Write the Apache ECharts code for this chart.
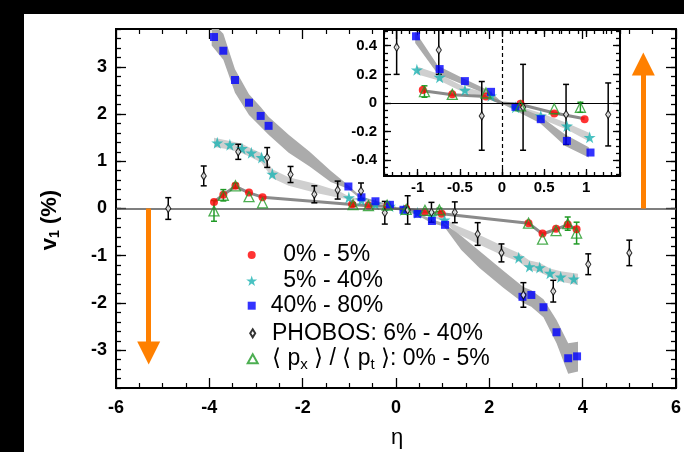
<!DOCTYPE html>
<html><head><meta charset="utf-8">
<script src="https://cdn.jsdelivr.net/npm/echarts@6/dist/echarts.min.js"></script>
<style>html,body{margin:0;padding:0;background:#fff;}#c{width:684px;height:452px;}</style>
</head><body><div id="c"></div>
<script>
// ---------------- data ----------------
const redX   = [-3.90,-3.70,-3.44,-3.15,-2.86,-0.94,-0.59,-0.19,0.22,0.62,0.98,2.84,3.14,3.43,3.68,3.87];
const redY   = [0.14,0.29,0.48,0.34,0.24,0.09,0.062,0.046,-0.006,-0.073,-0.113,-0.31,-0.53,-0.43,-0.34,-0.44];

const cyanX  = [-3.83,-3.56,-3.30,-3.10,-2.88,-2.65,-1.01,-0.74,-0.44,-0.13,0.16,0.46,0.77,1.04,2.63,2.86,3.08,3.30,3.53,3.81];
const cyanY  = [1.39,1.35,1.27,1.18,1.08,0.73,0.232,0.18,0.09,0.05,-0.03,-0.09,-0.16,-0.24,-1.04,-1.23,-1.25,-1.37,-1.45,-1.49];

const blueX  = [-3.90,-3.70,-3.45,-3.15,-2.90,-2.73,-1.02,-0.74,-0.44,-0.13,0.16,0.46,0.77,1.05,2.71,2.90,3.16,3.44,3.69,3.88];
const blueY  = [3.63,3.34,2.72,2.24,1.96,1.75,0.466,0.237,0.153,0.078,-0.027,-0.113,-0.265,-0.346,-1.87,-1.83,-2.09,-2.62,-3.17,-3.13];

const phobosX   = [-4.88,-4.12,-3.38,-2.76,-2.26,-1.75,-1.25,-0.75,-0.24,0.25,0.76,1.26,1.75,2.26,2.73,3.37,4.12,5.00];
const phobosY   = [0.00,0.69,1.20,1.08,0.72,0.30,0.39,0.37,-0.09,-0.03,-0.08,-0.08,-0.54,-0.94,-1.83,-1.75,-1.18,-0.94];
const phobosErr = [0.23,0.21,0.16,0.21,0.17,0.18,0.19,0.17,0.24,0.30,0.21,0.22,0.24,0.19,0.26,0.23,0.22,0.27];

const pxptX   = [-3.90,-3.70,-3.44,-3.15,-2.86,-0.92,-0.59,-0.19,0.22,0.62,0.93,2.84,3.14,3.43,3.68,3.87];
const pxptY   = [-0.05,0.28,0.48,0.25,0.12,0.08,0.06,0.07,-0.02,-0.04,-0.03,-0.31,-0.65,-0.47,-0.32,-0.52];
const pxptErr = [0.22,0.12,0.05,0,0,0.04,0,0,0,0,0.035,0,0,0,0.14,0.23];

// model bands (grey)
const bandBlueX  = [-3.95,-3.7,-3.45,-3.15,-2.9,-2.73,-2.3,-1.85,-1.4,-1.03,-0.76,-0.45,-0.15,0,0.15,0.45,0.75,1.03,1.4,1.79,2.3,2.73,2.9,3.16,3.44,3.69,3.9];
const bandBlueLo = [3.45,3.15,2.45,1.98,1.73,1.56,1.18,0.89,0.56,0.42,0.2,0.125,0.055,-0.005,-0.05,-0.14,-0.3,-0.38,-0.88,-1.26,-1.68,-2.0,-2.08,-2.3,-2.85,-3.5,-3.45];
const bandBlueHi = [3.95,3.7,2.95,2.42,2.15,1.94,1.56,1.2,0.8,0.5,0.26,0.17,0.085,0.005,-0.015,-0.09,-0.22,-0.31,-0.58,-0.9,-1.32,-1.66,-1.73,-1.92,-2.36,-2.85,-2.82];

const bandCyanX  = [-3.9,-3.56,-3.3,-3.1,-2.88,-2.65,-2.3,-1.71,-1.2,-1.01,-0.74,-0.44,-0.13,0,0.16,0.46,0.77,1.04,1.29,1.79,2.3,2.63,2.86,3.08,3.3,3.53,3.9];
const bandCyanLo = [1.3,1.25,1.17,1.08,0.97,0.64,0.48,0.33,0.22,0.2,0.155,0.07,0.03,-0.005,-0.045,-0.11,-0.185,-0.27,-0.52,-0.77,-1.0,-1.12,-1.3,-1.35,-1.45,-1.55,-1.62];
const bandCyanHi = [1.5,1.43,1.37,1.27,1.17,0.83,0.66,0.52,0.36,0.255,0.2,0.11,0.065,0.005,-0.015,-0.07,-0.14,-0.21,-0.36,-0.56,-0.8,-0.94,-1.1,-1.15,-1.27,-1.33,-1.38];

const lineRedX = [-3.9,-3.7,-3.44,-3.15,-2.86,-0.94,-0.59,-0.19,0,0.22,0.62,0.98,2.84,3.14,3.43,3.68,3.87];
const lineRedY = [0.14,0.29,0.47,0.33,0.24,0.085,0.058,0.045,0,-0.01,-0.07,-0.11,-0.31,-0.54,-0.44,-0.34,-0.44];

// the inset only shows the model curves over this |eta| span
const insetModelSpan = 1.06;

// annotation arrows (data coords): x position, end (symbol centre)
const arrowX   = [-5.3, 5.3];
const arrowEnd = [-3.06, 3.06];

// axis ticks
const mainYMajor = [-3,-2,-1,0,1,2,3];
const insetXMajor = [-1,-0.5,0,0.5,1];
const insetYMajor = [-0.4,-0.2,0,0.2,0.4];

const names = ['0% - 5%', '5% - 40%', '40% - 80%', 'PHOBOS: 6% - 40%', 'pxpt'];
// ---------------------------------------------------------

function steps(a, b, s){ const r=[]; const n=Math.round((b-a)/s); for(let i=0;i<=n;i++) r.push(+(a+i*s).toFixed(4)); return r; }
function keep(xs, arrs, span){
  const idx = xs.map((x,i)=>i).filter(i=>Math.abs(xs[i])<=span);
  return [idx.map(i=>xs[i])].concat(arrs.map(a=>idx.map(i=>a[i])));
}
const FONT = '"Liberation Sans", Arial, Helvetica, sans-serif';
const BLACK = '#000';
const RED='#ff0000', CYAN='#1bb3b3', BLUE='#0000ff', GREEN='#1f9a25';
const starPath = 'path://M50,0 L61,35 L98,35 L68,57 L79,91 L50,70 L21,91 L32,57 L2,35 L39,35 Z';

function axisDef(grid, pos, min, max, ticks, len, labels, fs, margin){
  return {
    type:'value', gridIndex:grid, position:pos, min, max,
    axisLine:{show:true, onZero:false, lineStyle:{color:BLACK, width:2}},
    axisTick:{show:true, inside:true, length:len, customValues:ticks, lineStyle:{color:BLACK, width:1.3}},
    axisLabel:{show:labels, customValues:ticks, fontFamily:FONT, fontWeight:'bold', fontSize:fs, color:BLACK, margin},
    splitLine:{show:false}
  };
}

const xAxes = [
  {type:'value', gridIndex:0, position:'bottom', min:-6, max:6, interval:2,
   axisLine:{onZero:false, lineStyle:{color:BLACK, width:2}},
   axisTick:{inside:true, length:10, lineStyle:{color:BLACK, width:1.3}},
   minorTick:{show:true, splitNumber:4, length:5, lineStyle:{color:BLACK, width:1.2}},
   axisLabel:{fontFamily:FONT, fontWeight:'bold', fontSize:18, color:BLACK, margin:11},
   splitLine:{show:false}, minorSplitLine:{show:false}},
  {type:'value', gridIndex:0, position:'top', min:-6, max:6, interval:2,
   axisLine:{onZero:false, lineStyle:{color:BLACK, width:2}},
   axisTick:{inside:true, length:10, lineStyle:{color:BLACK, width:1.3}},
   minorTick:{show:true, splitNumber:4, length:5, lineStyle:{color:BLACK, width:1.2}},
   axisLabel:{show:false}, splitLine:{show:false}, minorSplitLine:{show:false}},
  axisDef(1,'bottom',-1.4,1.4,insetXMajor,7,true,15,4),
  axisDef(1,'bottom',-1.4,1.4,steps(-1.4,1.4,0.1),4,false,15,4),
  axisDef(1,'top',-1.4,1.4,insetXMajor,7,false,15,4),
  axisDef(1,'top',-1.4,1.4,steps(-1.4,1.4,0.1),4,false,15,4)
];
const yAxes = [
  axisDef(0,'left',-3.8,3.8,mainYMajor,10,true,18,9),
  axisDef(0,'left',-3.8,3.8,steps(-3.8,3.8,0.2),5,false,18,9),
  axisDef(0,'right',-3.8,3.8,mainYMajor,10,false,18,9),
  axisDef(0,'right',-3.8,3.8,steps(-3.8,3.8,0.2),5,false,18,9),
  axisDef(1,'left',-0.51,0.51,insetYMajor,7,true,15,7),
  axisDef(1,'left',-0.51,0.51,steps(-0.5,0.5,0.05),4,false,15,7),
  axisDef(1,'right',-0.51,0.51,insetYMajor,7,false,15,7),
  axisDef(1,'right',-0.51,0.51,steps(-0.5,0.5,0.05),4,false,15,7)
];

function band(xi, yi, xs, lo, hi, color){
  return {type:'custom', xAxisIndex:xi, yAxisIndex:yi, clip:true, silent:true, z:1,
    data: xs.map((x,i)=>[x, lo[i], hi[i]]), encode:{x:0, y:[1,2]},
    renderItem:(params, api)=>{
      if (params.dataIndex!==0) return;
      const pts=[];
      for (let i=0;i<xs.length;i++) pts.push(api.coord([xs[i], hi[i]]));
      for (let i=xs.length-1;i>=0;i--) pts.push(api.coord([xs[i], lo[i]]));
      return {type:'polygon', shape:{points:pts}, style:{fill:color}};
    }};
}
function errBars(xi, yi, xs, ys, es, color, cap){
  return {type:'custom', xAxisIndex:xi, yAxisIndex:yi, clip:true, silent:true, z:3,
    data: xs.map((x,i)=>[x, ys[i], es[i]]), encode:{x:0, y:1},
    renderItem:(params, api)=>{
      const x=api.value(0), y=api.value(1), e=api.value(2);
      if (!e) return;
      const t=api.coord([x,y+e]), b=api.coord([x,y-e]);
      const st={stroke:color, lineWidth:1.5};
      return {type:'group', children:[
        {type:'line', shape:{x1:t[0],y1:t[1],x2:b[0],y2:b[1]}, style:st},
        {type:'line', shape:{x1:t[0]-cap,y1:t[1],x2:t[0]+cap,y2:t[1]}, style:st},
        {type:'line', shape:{x1:b[0]-cap,y1:b[1],x2:b[0]+cap,y2:b[1]}, style:st}]};
    }};
}
function sc(xi, yi, name, xs, ys, symbol, size, itemStyle, z){
  return {type:'scatter', name, xAxisIndex:xi, yAxisIndex:yi, clip:true, z,
    data: xs.map((x,i)=>[x, ys[i]]), symbol, symbolSize:size, itemStyle, silent:true};
}

const series = [];
[[0,0,false],[2,4,true]].forEach(([xi, yi, inset])=>{
  const span = inset ? insetModelSpan : 99;
  const cb = keep(bandCyanX, [bandCyanLo, bandCyanHi], span);
  const bb = keep(bandBlueX, [bandBlueLo, bandBlueHi], span);
  const rl = keep(lineRedX, [lineRedY], span);
  series.push(band(xi, yi, cb[0], cb[1], cb[2], '#cfcfcf'));
  series.push(band(xi, yi, bb[0], bb[1], bb[2], '#ababab'));
  const redLine = {type:'line', xAxisIndex:xi, yAxisIndex:yi, clip:true, silent:true, z:2,
    data: rl[0].map((x,i)=>[x, rl[1][i]]), showSymbol:false, symbol:'none',
    lineStyle:{color:'#8a8a8a', width:3}};
  if (!inset) {
    redLine.markLine = {silent:true, symbol:['none','none'], label:{show:false}, animation:false,
      data:[
        {yAxis:0, lineStyle:{color:'#555', width:1.5, type:'solid'}},
        [{coord:[arrowX[0],0], symbol:'none', lineStyle:{color:'#ff8000', width:5, type:'solid'}},
         {coord:[arrowX[0],arrowEnd[0]], symbol:'triangle', symbolSize:23}],
        [{coord:[arrowX[1],0], symbol:'none', lineStyle:{color:'#ff8000', width:5, type:'solid'}},
         {coord:[arrowX[1],arrowEnd[1]], symbol:'triangle', symbolSize:23}]
      ]};
  } else {
    redLine.markLine = {silent:true, symbol:['none','none'], label:{show:false}, animation:false,
      data:[
        {yAxis:0, lineStyle:{color:'#000', width:1.2, type:'solid'}},
        {xAxis:0, lineStyle:{color:'#000', width:1.2, type:[4,3]}}
      ]};
  }
  series.push(redLine);
  series.push(errBars(xi, yi, phobosX, phobosY, phobosErr, '#000', 3));
  series.push(errBars(xi, yi, pxptX, pxptY, pxptErr, GREEN, 3));
  series.push(sc(xi, yi, names[0], redX, redY, 'circle', 8, {color:RED}, 4));
  series.push(sc(xi, yi, names[1], cyanX, cyanY, starPath, 12, {color:CYAN}, 4));
  series.push(sc(xi, yi, names[2], blueX, blueY, 'rect', 8, {color:BLUE}, 4));
  series.push(sc(xi, yi, names[3], phobosX, phobosY, 'diamond', [5,8], {color:'#fff', borderColor:'#000', borderWidth:1.2}, 5));
  series.push(sc(xi, yi, names[4], pxptX, pxptY, 'triangle', 10, {color:'rgba(0,0,0,0)', borderColor:GREEN, borderWidth:1.3}, 5));
});

// one legend per entry so each icon keeps its own size
const legendRows = [
  {name:names[0], cy:255,   w:8,  h:8,  textX:283.3},
  {name:names[1], cy:280.7, w:11, h:11, textX:283.3},
  {name:names[2], cy:305.7, w:8,  h:8,  textX:270.7},
  {name:names[3], cy:333.3, w:5,  h:8,  textX:271},
  {name:names[4], cy:360.7, w:10, h:9,  textX:271}
];
const iconCX = 251.7;
const legends = legendRows.map((r, k)=>{
  const left = iconCX - r.w/2;
  const pad = r.textX - (left + r.w + 5);
  const rowH = (k===4) ? 27 : 23;
  return {
    data:[r.name], orient:'vertical', left, top: r.cy - (k===4 ? 13.5 : 11.5),
    itemWidth:r.w, itemHeight:r.h, selectedMode:false, padding:0,
    formatter:(n)=> n==='pxpt' ? '\u27e8 p{s|x} \u27e9 / \u27e8 p{s|t} \u27e9: 0% - 5%' : n,
    textStyle:{fontFamily:FONT, fontSize:23, color:'#000', lineHeight:23, padding:[0,0,0,pad],
      rich:{s:{fontFamily:FONT, fontSize:15, color:'#000', padding:[12,0,0,0]}}}
  };
});

const chart = echarts.init(document.getElementById('c'), null, {renderer:'canvas'});
chart.setOption({
  animation:false,
  backgroundColor:'#fff',
  grid:[
    {left:116, top:29, width:561, height:359, containLabel:false},
    {left:384, top:30, width:236, height:146, containLabel:false, show:true, backgroundColor:'#fff', borderWidth:0}
  ],
  xAxis:xAxes, yAxis:yAxes, series,
  legend:legends,
  graphic:[
    {type:'text', x:50, y:220, rotation:Math.PI/2, z:10,
     style:{text:'v{s|1} (%)', fontFamily:FONT, fontWeight:'bold', fontSize:22, fill:'#000',
       align:'center', verticalAlign:'middle',
       rich:{s:{fontFamily:FONT, fontWeight:'bold', fontSize:14, fill:'#000', padding:[10,0,0,0]}}}},
    {type:'text', x:397, y:438, z:10,
     style:{text:'\u03b7', fontFamily:FONT, fontSize:22, fill:'#000', align:'center', verticalAlign:'middle'}},
    {type:'rect', left:0, top:0, z:20, shape:{width:24, height:452}, style:{fill:'#000'}},
    {type:'rect', left:0, top:0, z:20, shape:{width:684, height:14}, style:{fill:'#000'}}
  ]
});
</script></body></html>
